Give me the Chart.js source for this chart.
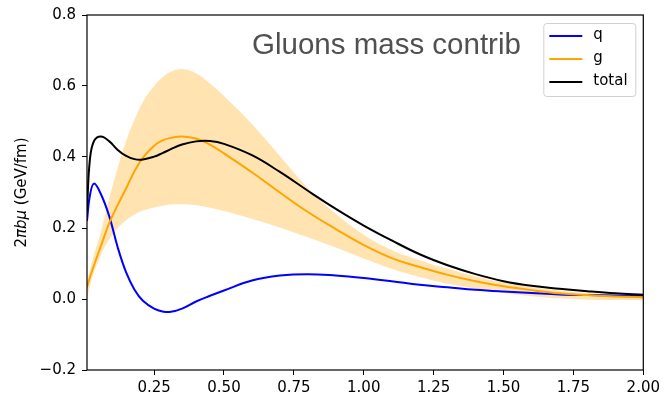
<!DOCTYPE html>
<html><head><meta charset="utf-8">
<script src="https://cdn.jsdelivr.net/npm/chart.js@4/dist/chart.umd.min.js"></script>
<style>html,body{margin:0;padding:0;background:#fff;overflow:hidden;}</style>
</head><body>
<canvas id="c" width="664" height="399"></canvas>
<script>
// ---- data ----
const xValues     = [0.01, 0.02, 0.035, 0.06, 0.09, 0.12, 0.15, 0.18, 0.21, 0.25, 0.28, 0.31, 0.35, 0.4, 0.45, 0.5, 0.6, 0.7, 0.8, 0.9, 1.0, 1.1, 1.2, 1.3, 1.4, 1.5, 1.6, 1.7, 1.8, 1.9, 2.0];
const qValues     = [0.22, 0.29, 0.325, 0.295, 0.232, 0.145, 0.075, 0.026, -0.005, -0.027, -0.035, -0.036, -0.027, -0.007, 0.009, 0.024, 0.052, 0.066, 0.07, 0.066, 0.059, 0.050, 0.040, 0.033, 0.026, 0.021, 0.017, 0.013, 0.011, 0.010, 0.009];
const gValues     = [0.033, 0.06, 0.095, 0.15, 0.215, 0.265, 0.312, 0.36, 0.398, 0.432, 0.447, 0.454, 0.458, 0.452, 0.435, 0.41, 0.357, 0.30, 0.245, 0.197, 0.152, 0.115, 0.09, 0.068, 0.05, 0.036, 0.025, 0.016, 0.011, 0.007, 0.005];
const totalValues = [0.25, 0.39, 0.445, 0.458, 0.444, 0.42, 0.403, 0.394, 0.393, 0.401, 0.411, 0.422, 0.435, 0.444, 0.445, 0.437, 0.405, 0.358, 0.305, 0.254, 0.207, 0.165, 0.126, 0.095, 0.07, 0.05, 0.037, 0.029, 0.022, 0.016, 0.012];
const gUpper      = [0.05, 0.08, 0.125, 0.19, 0.285, 0.37, 0.445, 0.505, 0.555, 0.60, 0.625, 0.64, 0.648, 0.636, 0.607, 0.572, 0.493, 0.403, 0.313, 0.24, 0.181, 0.138, 0.109, 0.085, 0.064, 0.046, 0.034, 0.024, 0.017, 0.012, 0.009];
const gLower      = [0.0, 0.035, 0.075, 0.125, 0.168, 0.20, 0.222, 0.238, 0.249, 0.258, 0.263, 0.266, 0.267, 0.264, 0.257, 0.248, 0.226, 0.201, 0.174, 0.145, 0.114, 0.085, 0.062, 0.043, 0.029, 0.017, 0.008, 0.002, -0.002, -0.003, -0.003];
const xTickValues = [0.25, 0.50, 0.75, 1.00, 1.25, 1.50, 1.75, 2.00];
const yTickValues = [-0.2, 0.0, 0.2, 0.4, 0.6, 0.8];
const seriesLabels = ['q', 'g', 'total'];
const titleText = 'Gluons mass contrib';
// y-axis label pieces: [text, italic?]
const yAxisTitleParts = [['2', false], ['\u03C0b\u03BC', true], [' (GeV/fm)', false]];

const pts = (ys) => xValues.map((x, i) => ({x: x, y: ys[i]}));

const FONT = 'DejaVu Sans';

const frameAndText = {
  id: 'frameAndText',
  afterDatasetsDraw(chart) {
    const {ctx, chartArea: a} = chart;
    ctx.save();
    // frame
    ctx.strokeStyle = '#000';
    ctx.lineWidth = 1.2;
    ctx.strokeRect(a.left, a.top, a.right - a.left, a.bottom - a.top);
    // in-plot title
    ctx.fillStyle = '#505050';
    ctx.font = '29.5px "Liberation Sans", Arial, sans-serif';
    ctx.textAlign = 'left';
    ctx.textBaseline = 'alphabetic';
    ctx.fillText(titleText, a.left + 165, a.top + 39);
    // legend
    const bx = a.right - 100, by = a.top + 8, bw = 92, bh = 73;
    ctx.fillStyle = 'rgba(255,255,255,0.85)';
    ctx.strokeStyle = '#d0d0d0';
    ctx.lineWidth = 1;
    ctx.beginPath();
    if (ctx.roundRect) ctx.roundRect(bx + 0.5, by + 0.5, bw, bh, 3); else ctx.rect(bx + 0.5, by + 0.5, bw, bh);
    ctx.fill();
    ctx.stroke();
    const items = chart.data.datasets.filter(d => d.legendOrder !== undefined)
      .sort((p, q) => p.legendOrder - q.legendOrder);
    ctx.font = '15px "' + FONT + '"';
    ctx.textBaseline = 'middle';
    items.forEach((d, i) => {
      const y = by + 13 + i * 23;
      ctx.strokeStyle = d.borderColor;
      ctx.lineWidth = 2;
      ctx.beginPath();
      ctx.moveTo(bx + 6, y);
      ctx.lineTo(bx + 39, y);
      ctx.stroke();
      ctx.fillStyle = '#000';
      ctx.fillText(d.label, bx + 50, y - 1);
    });
    // y-axis title (rotated, with italic math letters)
    const fN = '15px "' + FONT + '"', fI = 'oblique 15px "' + FONT + '"';
    let total = 0;
    const widths = yAxisTitleParts.map(([t, it]) => { ctx.font = it ? fI : fN; const w = ctx.measureText(t).width; total += w; return w; });
    ctx.translate(22, (a.top + a.bottom) / 2);
    ctx.rotate(-Math.PI / 2);
    ctx.fillStyle = '#000';
    ctx.textAlign = 'left';
    ctx.textBaseline = 'middle';
    let x = -total / 2;
    yAxisTitleParts.forEach(([t, it], i) => { ctx.font = it ? fI : fN; ctx.fillText(t, x, 0); x += widths[i]; });
    ctx.restore();
  }
};

const T = 0.4;
new Chart(document.getElementById('c'), {
  type: 'line',
  data: {
    datasets: [
      {label: seriesLabels[2], data: pts(totalValues), borderColor: '#000000', borderWidth: 2, pointRadius: 0, fill: false, tension: T, legendOrder: 2},
      {label: seriesLabels[1], data: pts(gValues), borderColor: '#ffa500', borderWidth: 2, pointRadius: 0, fill: false, tension: T, legendOrder: 1},
      {label: seriesLabels[0], data: pts(qValues), borderColor: '#0000ff', borderWidth: 2, pointRadius: 0, fill: false, tension: T, legendOrder: 0},
      {label: 'g upper', data: pts(gUpper), borderWidth: 0, borderColor: 'rgba(0,0,0,0)', pointRadius: 0, fill: 4, backgroundColor: 'rgba(255,165,0,0.3)', tension: T},
      {label: 'g lower', data: pts(gLower), borderWidth: 0, borderColor: 'rgba(0,0,0,0)', pointRadius: 0, fill: false, tension: T}
    ]
  },
  options: {
    responsive: false,
    animation: false,
    devicePixelRatio: 1,
    layout: {padding: {left: 0, right: 19, top: 11, bottom: 0}},
    plugins: {legend: {display: false}, tooltip: {enabled: false}},
    scales: {
      x: {
        type: 'linear', min: 0.01, max: 2.0,
        afterBuildTicks: (s) => { s.ticks = xTickValues.map(v => ({value: v})); },
        afterFit: (s) => { s.height = 29; },
        grid: {display: true, drawOnChartArea: false, drawTicks: true, tickLength: 5, color: '#000', lineWidth: 1},
        border: {display: false},
        ticks: {font: {family: FONT, size: 15}, color: '#000', padding: 4, maxRotation: 0, autoSkip: false,
          callback: (v) => Number(v).toFixed(2)}
      },
      y: {
        type: 'linear', min: -0.2, max: 0.8,
        afterBuildTicks: (s) => { s.ticks = yTickValues.map(v => ({value: v})); },
        afterFit: (s) => { s.width = 87; },
        grid: {display: true, drawOnChartArea: false, drawTicks: true, tickLength: 5, color: '#000', lineWidth: 1},
        border: {display: false},
        ticks: {font: {family: FONT, size: 15}, color: '#000', padding: 6,
          callback: (v) => (v < -1e-9 ? '\u2212' + Math.abs(v).toFixed(1) : Math.abs(v).toFixed(1))}
      }
    }
  },
  plugins: [frameAndText]
});
</script>
</body></html>
